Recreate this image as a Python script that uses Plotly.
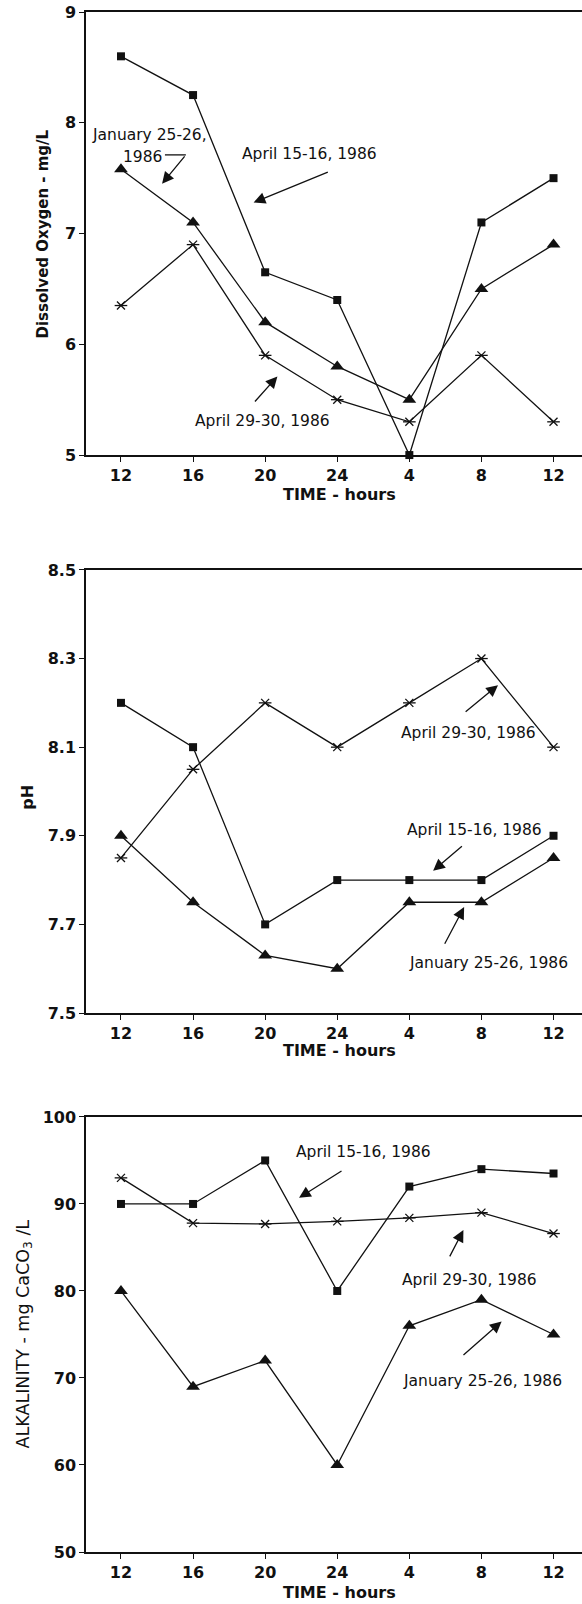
import plotly.graph_objects as go
from plotly.subplots import make_subplots

time_labels = ["12", "16", "20", "24", "4", "8", "12"]

# Dissolved oxygen (mg/L)
do_apr15 = [8.6, 8.25, 6.65, 6.4, 5.0, 7.1, 7.5]
do_jan25 = [7.58, 7.1, 6.2, 5.8, 5.5, 6.5, 6.9]
do_apr29 = [6.35, 6.9, 5.9, 5.5, 5.3, 5.9, 5.3]

# pH
ph_apr15 = [8.2, 8.1, 7.7, 7.8, 7.8, 7.8, 7.9]
ph_jan25 = [7.9, 7.75, 7.63, 7.6, 7.75, 7.75, 7.85]
ph_apr29 = [7.85, 8.05, 8.2, 8.1, 8.2, 8.3, 8.1]

# Alkalinity (mg CaCO3/L)
alk_apr15 = [90, 90, 95, 80, 92, 94, 93.5]
alk_jan25 = [80, 69, 72, 60, 76, 79, 75]
alk_apr29 = [93, 87.8, 87.7, 88.0, 88.4, 89.0, 86.6]

do_ticks = [5, 6, 7, 8, 9]
ph_ticks = [7.5, 7.7, 7.9, 8.1, 8.3, 8.5]
alk_ticks = [50, 60, 70, 80, 90, 100]

x_pos = list(range(len(time_labels)))

FONT = "DejaVu Sans"
BLACK = "#111111"

fig = make_subplots(rows=3, cols=1)

def add_series(row, sq, tri, star):
    line = dict(color=BLACK, width=1.3)
    fig.add_trace(go.Scatter(x=x_pos, y=sq, mode="lines+markers", line=line,
                             marker=dict(symbol="square", size=8, color=BLACK),
                             cliponaxis=False, showlegend=False), row=row, col=1)
    fig.add_trace(go.Scatter(x=x_pos, y=tri, mode="lines+markers", line=line,
                             marker=dict(symbol="triangle-up", size=12, color=BLACK),
                             cliponaxis=False, showlegend=False), row=row, col=1)
    fig.add_trace(go.Scatter(x=x_pos, y=star, mode="lines+markers", line=line,
                             marker=dict(symbol="x-thin-open", size=8, color=BLACK,
                                         line=dict(color=BLACK, width=1.3)),
                             cliponaxis=False, showlegend=False), row=row, col=1)
    fig.add_trace(go.Scatter(x=x_pos, y=star, mode="markers",
                             marker=dict(symbol="line-ew-open", size=9, color=BLACK,
                                         line=dict(color=BLACK, width=1.3)),
                             cliponaxis=False, showlegend=False), row=row, col=1)

add_series(1, do_apr15, do_jan25, do_apr29)
add_series(2, ph_apr15, ph_jan25, ph_apr29)
add_series(3, alk_apr15, alk_jan25, alk_apr29)

domains = [[0.7123, 1.0], [0.35, 0.6377], [0.0, 0.2825]]
yranges = [[5, 9], [7.5, 8.5], [50, 100]]
yticks = [do_ticks, ph_ticks, alk_ticks]
ytext = [[str(v) for v in do_ticks], [f"{v:.1f}" for v in ph_ticks], [str(v) for v in alk_ticks]]

for i in range(3):
    xa = "xaxis" if i == 0 else f"xaxis{i+1}"
    ya = "yaxis" if i == 0 else f"yaxis{i+1}"
    fig.layout[xa].update(
        domain=[0, 1], range=[-0.485, 6.395], tickvals=x_pos, ticktext=time_labels,
        showline=True, linecolor=BLACK, linewidth=2, mirror=True,
        ticks="outside", ticklen=5, tickcolor=BLACK, showgrid=False, zeroline=False,
        tickfont=dict(family=FONT, size=16, color=BLACK, weight="bold"))
    fig.layout[ya].update(
        domain=domains[i], range=yranges[i], tickvals=yticks[i], ticktext=ytext[i],
        showline=True, linecolor=BLACK, linewidth=1.5, mirror=False,
        ticks="outside", ticklen=5, tickcolor=BLACK, showgrid=False, zeroline=False,
        tickfont=dict(family=FONT, size=16, color=BLACK, weight="bold"))

ann = []
def txt(text, x, y, ref, size=15.5, xanchor="center"):
    ann.append(dict(text=text, x=x, y=y, xref=f"x{ref}", yref=f"y{ref}", showarrow=False,
                    xanchor=xanchor, yanchor="middle",
                    font=dict(family=FONT, size=size, color=BLACK)))

def arrow(tx, ty, hx, hy, ref):
    ann.append(dict(text="", x=hx, y=hy, ax=tx, ay=ty, xref=f"x{ref}", yref=f"y{ref}",
                    axref=f"x{ref}", ayref=f"y{ref}", showarrow=True,
                    arrowhead=2, arrowsize=1.8, arrowwidth=1.3, arrowcolor=BLACK))

# Top panel
txt("January 25-26,", 0.40, 7.89, "")
txt("1986", 0.30, 7.69, "")
arrow(2.89, 7.56, 1.84, 7.28, "")
txt("April 15-16, 1986", 2.61, 7.72, "")
arrow(1.84, 5.47, 2.17, 5.71, "")
txt("April 29-30, 1986", 1.97, 5.31, "")
arrow(0.90, 7.71, 0.57, 7.45, "")

# Middle panel
txt("April 29-30, 1986", 4.82, 8.133, "2")
arrow(4.76, 8.177, 5.23, 8.24, "2")
txt("April 15-16, 1986", 4.91, 7.913, "2")
arrow(4.75, 7.879, 4.33, 7.821, "2")
txt("January 25-26, 1986", 5.10, 7.613, "2")
arrow(4.48, 7.653, 4.76, 7.739, "2")

# Bottom panel
txt("April 15-16, 1986", 3.36, 96.0, "3")
arrow(3.08, 93.9, 2.47, 90.7, "3")
txt("April 29-30, 1986", 4.84, 81.3, "3")
arrow(4.55, 83.8, 4.75, 87.0, "3")
txt("January 25-26, 1986", 5.01, 69.6, "3")
arrow(4.73, 72.5, 5.28, 76.5, "3")

# Axis titles
for i, (yoff) in enumerate([-0.088, -0.084, -0.094]):
    s = "" if i == 0 else str(i + 1)
    ann.append(dict(text="TIME - hours", x=0.512, y=yoff, xref=f"x{s} domain", yref=f"y{s} domain",
                    showarrow=False, xanchor="center", yanchor="middle",
                    font=dict(family=FONT, size=16, color=BLACK, weight="bold")))

ann.append(dict(text="Dissolved Oxygen - mg/L", x=-0.0867, y=0.5, xref="paper", yref="y domain",
                textangle=-90, showarrow=False, xanchor="center", yanchor="middle",
                font=dict(family=FONT, size=15, color=BLACK, weight="bold")))
ann.append(dict(text="pH", x=-0.117, y=0.488, xref="paper", yref="y2 domain",
                textangle=-90, showarrow=False, xanchor="center", yanchor="middle",
                font=dict(family=FONT, size=16, color=BLACK, weight="bold")))
ann.append(dict(text="ALKALINITY - mg CaCO<sub>3</sub> /L", x=-0.125, y=0.5, xref="paper", yref="y3 domain",
                textangle=-90, showarrow=False, xanchor="center", yanchor="middle",
                font=dict(family=FONT, size=17.5, color=BLACK)))

# Hook segment of the "1986" callout
shapes = [dict(type="line", x0=0.61, y0=7.71, x1=0.90, y1=7.71, xref="x", yref="y",
               line=dict(color=BLACK, width=1.3))]

fig.update_layout(
    width=582, height=1604,
    margin=dict(l=86, r=0, t=12, b=52),
    paper_bgcolor="white", plot_bgcolor="white",
    annotations=ann, shapes=shapes, showlegend=False,
    font=dict(family=FONT, color=BLACK),
)

fig.write_html("out.html")
